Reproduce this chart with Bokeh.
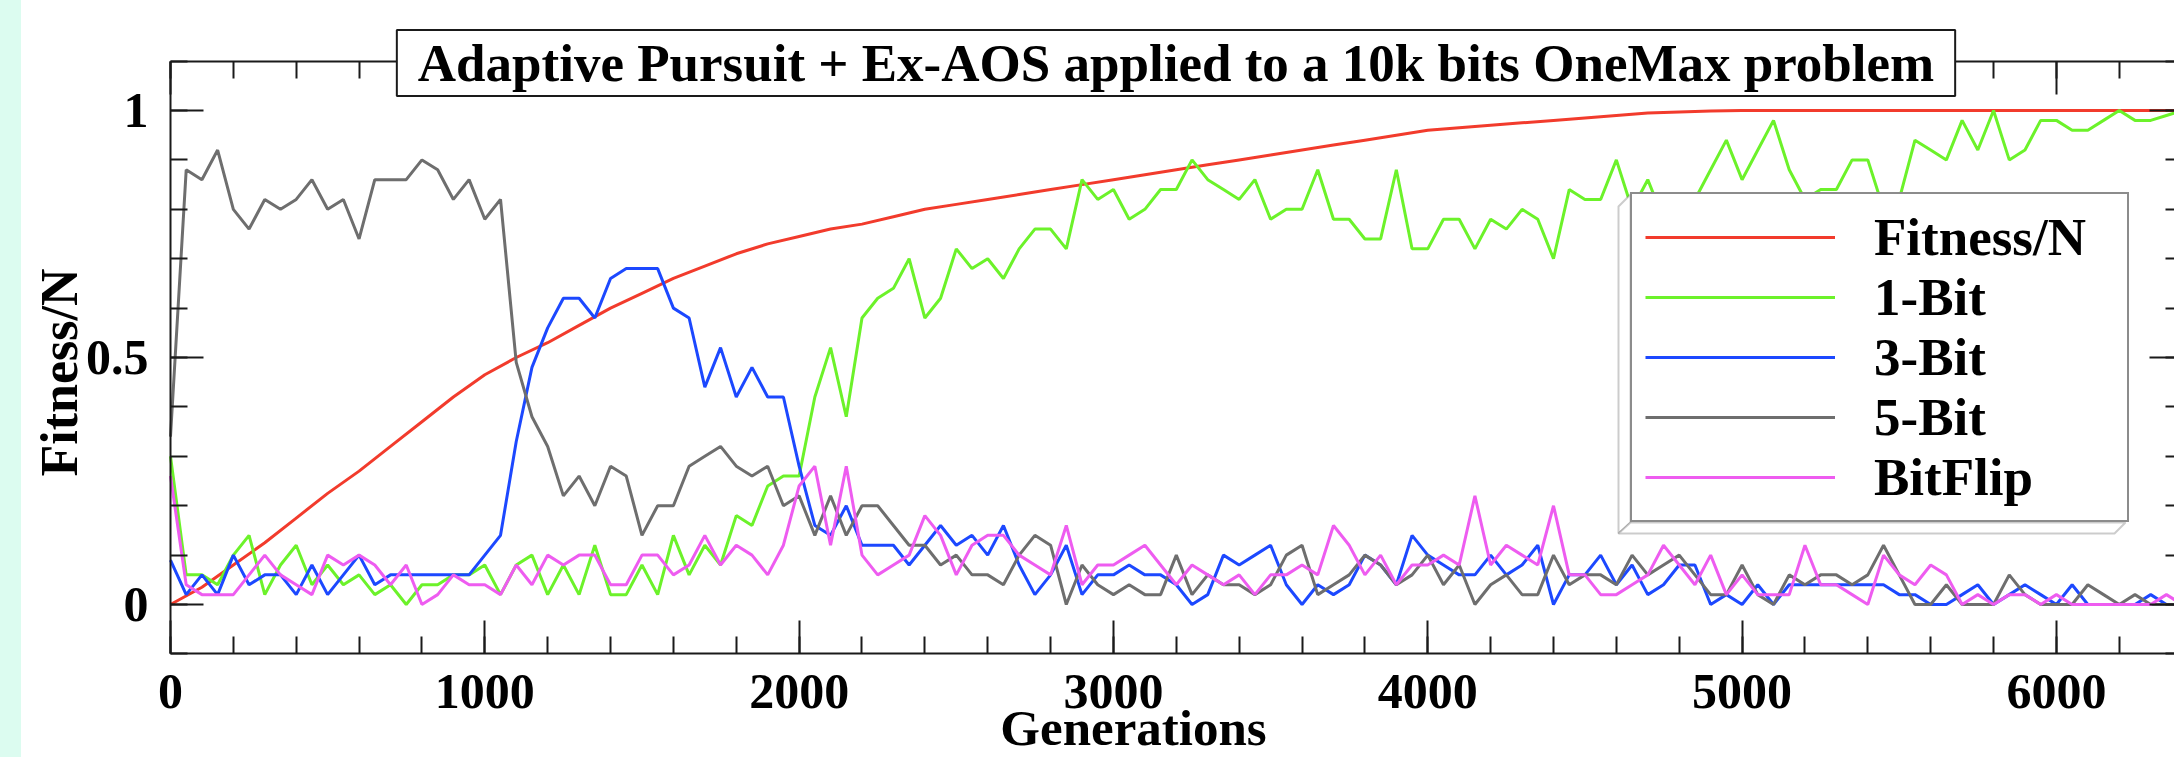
import numpy as np
from bokeh.plotting import figure
from bokeh.models import (Range1d, LinearAxis, SingleIntervalTicker, NumeralTickFormatter,
                          CustomJSTickFormatter, Legend, LegendItem, Label, PolyAnnotation)
from bokeh.embed import file_html
from bokeh.resources import INLINE

# ---------------- data ----------------
generations = list(range(0, 6401, 50))
fitness_generations = list(range(0, 6401, 100))

fitness_n = [
    0.000, 0.035, 0.080, 0.125, 0.175, 0.225, 0.270, 0.320, 0.370, 0.420,
    0.465, 0.500, 0.530, 0.565, 0.600, 0.630, 0.660, 0.685, 0.710, 0.730,
    0.745, 0.760, 0.770, 0.785, 0.800, 0.810, 0.820, 0.830, 0.840, 0.850,
    0.860, 0.870, 0.880, 0.890, 0.900, 0.910, 0.920, 0.930, 0.940, 0.950,
    0.960, 0.965, 0.970, 0.975, 0.980, 0.985, 0.990, 0.995, 0.997, 0.999,
    1.000, 1.000, 1.000, 1.000, 1.000, 1.000, 1.000, 1.000, 1.000, 1.000,
    1.000, 1.000, 1.000, 1.000, 1.000,
]

bit1 = [
    0.30, 0.06, 0.06, 0.04, 0.10, 0.14, 0.02, 0.08, 0.12, 0.04,
    0.08, 0.04, 0.06, 0.02, 0.04, 0.00, 0.04, 0.04, 0.06, 0.06,
    0.08, 0.02, 0.08, 0.10, 0.02, 0.08, 0.02, 0.12, 0.02, 0.02,
    0.08, 0.02, 0.14, 0.06, 0.12, 0.08, 0.18, 0.16, 0.24, 0.26,
    0.26, 0.42, 0.52, 0.38, 0.58, 0.62, 0.64, 0.70, 0.58, 0.62,
    0.72, 0.68, 0.70, 0.66, 0.72, 0.76, 0.76, 0.72, 0.86, 0.82,
    0.84, 0.78, 0.80, 0.84, 0.84, 0.90, 0.86, 0.84, 0.82, 0.86,
    0.78, 0.80, 0.80, 0.88, 0.78, 0.78, 0.74, 0.74, 0.88, 0.72,
    0.72, 0.78, 0.78, 0.72, 0.78, 0.76, 0.80, 0.78, 0.70, 0.84,
    0.82, 0.82, 0.90, 0.80, 0.86, 0.78, 0.76, 0.82, 0.88, 0.94,
    0.86, 0.92, 0.98, 0.88, 0.82, 0.84, 0.84, 0.90, 0.90, 0.80,
    0.82, 0.94, 0.92, 0.90, 0.98, 0.92, 1.00, 0.90, 0.92, 0.98,
    0.98, 0.96, 0.96, 0.98, 1.00, 0.98, 0.98, 0.99, 1.00,
]

bit3 = [
    0.09, 0.02, 0.06, 0.02, 0.10, 0.04, 0.06, 0.06, 0.02, 0.08,
    0.02, 0.06, 0.10, 0.04, 0.06, 0.06, 0.06, 0.06, 0.06, 0.06,
    0.10, 0.14, 0.33, 0.48, 0.56, 0.62, 0.62, 0.58, 0.66, 0.68,
    0.68, 0.68, 0.60, 0.58, 0.44, 0.52, 0.42, 0.48, 0.42, 0.42,
    0.28, 0.16, 0.14, 0.20, 0.12, 0.12, 0.12, 0.08, 0.12, 0.16,
    0.12, 0.14, 0.10, 0.16, 0.08, 0.02, 0.06, 0.12, 0.02, 0.06,
    0.06, 0.08, 0.06, 0.06, 0.04, 0.00, 0.02, 0.10, 0.08, 0.10,
    0.12, 0.04, 0.00, 0.04, 0.02, 0.04, 0.10, 0.08, 0.04, 0.14,
    0.10, 0.08, 0.06, 0.06, 0.10, 0.06, 0.08, 0.12, 0.00, 0.06,
    0.06, 0.10, 0.04, 0.08, 0.02, 0.04, 0.08, 0.08, 0.00, 0.02,
    0.00, 0.04, 0.00, 0.04, 0.04, 0.04, 0.04, 0.04, 0.04, 0.04,
    0.02, 0.02, 0.00, 0.00, 0.02, 0.04, 0.00, 0.02, 0.04, 0.02,
    0.00, 0.04, 0.00, 0.00, 0.00, 0.00, 0.02, 0.00, 0.00,
]

bit5 = [
    0.34, 0.88, 0.86, 0.92, 0.80, 0.76, 0.82, 0.80, 0.82, 0.86,
    0.80, 0.82, 0.74, 0.86, 0.86, 0.86, 0.90, 0.88, 0.82, 0.86,
    0.78, 0.82, 0.49, 0.38, 0.32, 0.22, 0.26, 0.20, 0.28, 0.26,
    0.14, 0.20, 0.20, 0.28, 0.30, 0.32, 0.28, 0.26, 0.28, 0.20,
    0.22, 0.14, 0.22, 0.14, 0.20, 0.20, 0.16, 0.12, 0.12, 0.08,
    0.10, 0.06, 0.06, 0.04, 0.10, 0.14, 0.12, 0.00, 0.08, 0.04,
    0.02, 0.04, 0.02, 0.02, 0.10, 0.02, 0.06, 0.04, 0.04, 0.02,
    0.04, 0.10, 0.12, 0.02, 0.04, 0.06, 0.10, 0.08, 0.04, 0.06,
    0.10, 0.04, 0.08, 0.00, 0.04, 0.06, 0.02, 0.02, 0.10, 0.04,
    0.06, 0.06, 0.04, 0.10, 0.06, 0.08, 0.10, 0.06, 0.02, 0.02,
    0.08, 0.02, 0.00, 0.06, 0.04, 0.06, 0.06, 0.04, 0.06, 0.12,
    0.06, 0.00, 0.00, 0.04, 0.00, 0.00, 0.00, 0.06, 0.02, 0.00,
    0.00, 0.00, 0.04, 0.02, 0.00, 0.02, 0.00, 0.00, 0.00,
]

bitflip = [
    0.26, 0.04, 0.02, 0.02, 0.02, 0.06, 0.10, 0.06, 0.04, 0.02,
    0.10, 0.08, 0.10, 0.08, 0.04, 0.08, 0.00, 0.02, 0.06, 0.04,
    0.04, 0.02, 0.08, 0.04, 0.10, 0.08, 0.10, 0.10, 0.04, 0.04,
    0.10, 0.10, 0.06, 0.08, 0.14, 0.08, 0.12, 0.10, 0.06, 0.12,
    0.24, 0.28, 0.12, 0.28, 0.10, 0.06, 0.08, 0.10, 0.18, 0.14,
    0.06, 0.12, 0.14, 0.14, 0.10, 0.08, 0.06, 0.16, 0.04, 0.08,
    0.08, 0.10, 0.12, 0.08, 0.04, 0.08, 0.06, 0.04, 0.06, 0.02,
    0.06, 0.06, 0.08, 0.06, 0.16, 0.12, 0.06, 0.10, 0.04, 0.08,
    0.08, 0.10, 0.08, 0.22, 0.08, 0.12, 0.10, 0.08, 0.20, 0.06,
    0.06, 0.02, 0.02, 0.04, 0.06, 0.12, 0.08, 0.04, 0.10, 0.02,
    0.06, 0.02, 0.02, 0.02, 0.12, 0.04, 0.04, 0.02, 0.00, 0.10,
    0.06, 0.04, 0.08, 0.06, 0.00, 0.02, 0.00, 0.02, 0.02, 0.00,
    0.02, 0.00, 0.00, 0.00, 0.00, 0.00, 0.00, 0.02, 0.00,
]

series_labels = ["Fitness/N", "1-Bit", "3-Bit", "5-Bit", "BitFlip"]
title_text = "Adaptive Pursuit + Ex-AOS applied to a 10k bits OneMax problem"
x_title = "Generations"
y_title = "Fitness/N"

# ---------------- styling ----------------
FONT = "Liberation Serif"
INK = "#1a1a1a"
colors = ["#f23b2c", "#6cf22a", "#1c48ff", "#6e6e6e", "#ee5cf0"]

W, H = 2174, 757
# the frame covers the whole canvas; the visible axes box sits at fixed data locations
p = figure(width=W, height=H, output_backend="svg", toolbar_location=None, tools="",
           x_range=Range1d(-540.8, 6375.7), y_range=Range1d(-0.3097, 1.2227),
           min_border=0, min_border_left=0, min_border_right=0,
           min_border_top=0, min_border_bottom=0)
p.background_fill_color = None
p.border_fill_color = None
p.outline_line_color = None
p.grid.visible = False


def style_axis(ax, ticker, loc, bounds, labels=True, line=True):
    ax.ticker = ticker
    ax.fixed_location = loc
    ax.bounds = bounds
    ax.major_tick_in = 33
    ax.major_tick_out = 0
    ax.minor_tick_in = 17
    ax.minor_tick_out = 0
    ax.major_tick_line_width = 2
    ax.minor_tick_line_width = 2
    ax.major_tick_line_color = INK
    ax.minor_tick_line_color = INK
    ax.axis_line_width = 2
    ax.axis_line_color = INK if line else None
    if labels:
        ax.major_label_text_font = FONT
        ax.major_label_text_font_style = "bold"
        ax.major_label_text_font_size = "50px"
        ax.major_label_text_color = "black"
    else:
        ax.formatter = CustomJSTickFormatter(code="return ''")
        ax.major_label_standoff = 0


xax = p.xaxis[0]
style_axis(xax, SingleIntervalTicker(interval=1000, num_minor_ticks=5), -0.1, (0, 6400))
xax.major_label_standoff = 21

yax = p.yaxis[0]
style_axis(yax, SingleIntervalTicker(interval=0.5, num_minor_ticks=5), 0, (-0.1, 1.1))
yax.formatter = NumeralTickFormatter(format="0.[0]")
yax.major_label_standoff = 22

top = LinearAxis()
style_axis(top, SingleIntervalTicker(interval=1000, num_minor_ticks=5), 1.1, (0, 6400), labels=False)
p.add_layout(top, "above")

right = LinearAxis()
style_axis(right, SingleIntervalTicker(interval=0.5, num_minor_ticks=5), 6400, (-0.1, 1.1),
           labels=False)
p.add_layout(right, "right")

# ---------------- series ----------------
LW = 3
r_fit = p.line(fitness_generations, fitness_n, line_color=colors[0], line_width=LW)
r_b1 = p.line(generations, bit1, line_color=colors[1], line_width=LW)
r_b3 = p.line(generations, bit3, line_color=colors[2], line_width=LW)
r_b5 = p.line(generations, bit5, line_color=colors[3], line_width=LW)
r_bf = p.line(generations, bitflip, line_color=colors[4], line_width=LW)
renderers = [r_fit, r_b1, r_b3, r_b5, r_bf]

# ---------------- legend with 3D shadow (screen units from bottom-left) ----------------
shadow_left = PolyAnnotation(xs=[1630, 1618, 1618, 1630], ys=[563, 551, 224, 235],
                             xs_units="screen", ys_units="screen",
                             fill_color="white", fill_alpha=1.0,
                             line_color="#555555", line_width=2)
shadow_bottom = PolyAnnotation(xs=[1618, 2114, 2125, 1630], ys=[224, 224, 235, 235],
                               xs_units="screen", ys_units="screen",
                               fill_color="white", fill_alpha=1.0,
                               line_color="#555555", line_width=2)
p.add_layout(shadow_left)
p.add_layout(shadow_bottom)

legend = Legend(items=[LegendItem(label=l, renderers=[r]) for l, r in zip(series_labels, renderers)],
                location=(1630, 235), margin=0, padding=13, spacing=0,
                glyph_width=190, glyph_height=58, label_height=58, label_width=240,
                label_standoff=39,
                label_text_font=FONT, label_text_font_style="bold",
                label_text_font_size="53px", label_text_color="black",
                border_line_color=INK, border_line_width=2,
                background_fill_color="white", background_fill_alpha=1.0)
p.add_layout(legend)

# ---------------- texts ----------------
title = Label(x=1175.5, y=694.5, x_units="screen", y_units="screen", text=title_text,
              text_font=FONT, text_font_style="bold", text_font_size="53px",
              text_color="black", text_align="center", text_baseline="middle",
              border_line_color=INK, border_line_width=2,
              background_fill_color="white", background_fill_alpha=1.0,
              padding=dict(left=21, right=21, top=4, bottom=4))
p.add_layout(title)

xlabel = Label(x=1133, y=30, x_units="screen", y_units="screen", text=x_title,
               text_font=FONT, text_font_style="bold", text_font_size="51px",
               text_color="black", text_align="center", text_baseline="middle")
p.add_layout(xlabel)

ylabel = Label(x=59, y=385, x_units="screen", y_units="screen", text=y_title,
               angle=np.pi / 2,
               text_font=FONT, text_font_style="bold", text_font_size="52px",
               text_color="black", text_align="center", text_baseline="middle")
p.add_layout(ylabel)

html = file_html(p, INLINE)
html = html.replace(
    "</head>",
    "<style>html,body{background:#ffffff linear-gradient(to right,#dcfcf0 21px,#ffffff 21px) no-repeat;}</style></head>",
    1)
open("out.html", "w").write(html)
